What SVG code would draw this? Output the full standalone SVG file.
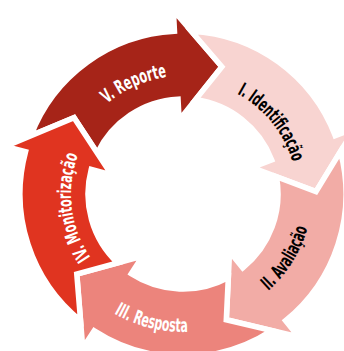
<svg xmlns="http://www.w3.org/2000/svg" width="344" height="351" viewBox="0 0 344 351">
  <defs>
    <path id="arrow" d="M30.77,135.75 A163,163 0 0 1 174.47,31.22 L173.37,10.25 L221.89,66.81 L179.13,120.10 L178.03,99.13 A95,95 0 0 0 97.25,153.10 L74.05,117.71 Z"/>
    <path id="tpReporte" d="M65.65,181.67 A118,118 0 0 1 252.36,98.54"/>
    <path id="tpIdent" d="M165.17,81.40 A114,114 0 0 1 289.43,234.85"/>
    <path id="tpAval" d="M178.50,322.92 A129,129 0 0 0 296.90,133.44"/>
    <path id="tpResp" d="M50.35,232.04 A138,138 0 0 0 282.27,289.86"/>
    <path id="tpMon" d="M139.27,297.12 A112,112 0 0 1 115.60,104.55"/>
  </defs>
  <style>
    .arr { stroke: #ffffff; stroke-width: 5.5; stroke-linejoin: miter; stroke-miterlimit: 20; }
    .lbl { font-family: "DejaVu Sans Condensed", "DejaVu Sans", sans-serif; font-stretch: condensed; font-weight: bold; font-size: 19px; }
    .w { fill: #ffffff; }
    .k { fill: #000000; }
  </style>
  <rect width="344" height="351" fill="#ffffff"/>
  <g id="node-reporte">
    <use href="#arrow" class="arr" fill="#A62418"/>
    <text class="lbl w"><textPath href="#tpReporte" startOffset="50%" text-anchor="middle" textLength="66" lengthAdjust="spacingAndGlyphs">V. Reporte</textPath></text>
  </g>
  <g id="node-identificacao">
    <use href="#arrow" class="arr" fill="#F8D4D1" transform="rotate(72 183 194)"/>
    <text class="lbl k"><textPath href="#tpIdent" startOffset="50%" text-anchor="middle" textLength="90" lengthAdjust="spacingAndGlyphs">I. Identificação</textPath></text>
  </g>
  <g id="node-avaliacao">
    <use href="#arrow" class="arr" fill="#F2ACA6" transform="rotate(144 183 194)"/>
    <text class="lbl k"><textPath href="#tpAval" startOffset="50%" text-anchor="middle" textLength="75" lengthAdjust="spacingAndGlyphs">II. Avaliação</textPath></text>
  </g>
  <g id="node-resposta">
    <use href="#arrow" class="arr" fill="#EC847C" transform="rotate(216 183 194)"/>
    <text class="lbl w"><textPath href="#tpResp" startOffset="50%" text-anchor="middle" textLength="77" lengthAdjust="spacingAndGlyphs">III. Resposta</textPath></text>
  </g>
  <g id="node-monitorizacao">
    <use href="#arrow" class="arr" fill="#E03420" transform="rotate(288 183 194)"/>
    <text class="lbl w"><textPath href="#tpMon" startOffset="50%" text-anchor="middle" textLength="107" lengthAdjust="spacingAndGlyphs">IV. Monitorização</textPath></text>
  </g>
  <g id="connectors"/>
</svg>
